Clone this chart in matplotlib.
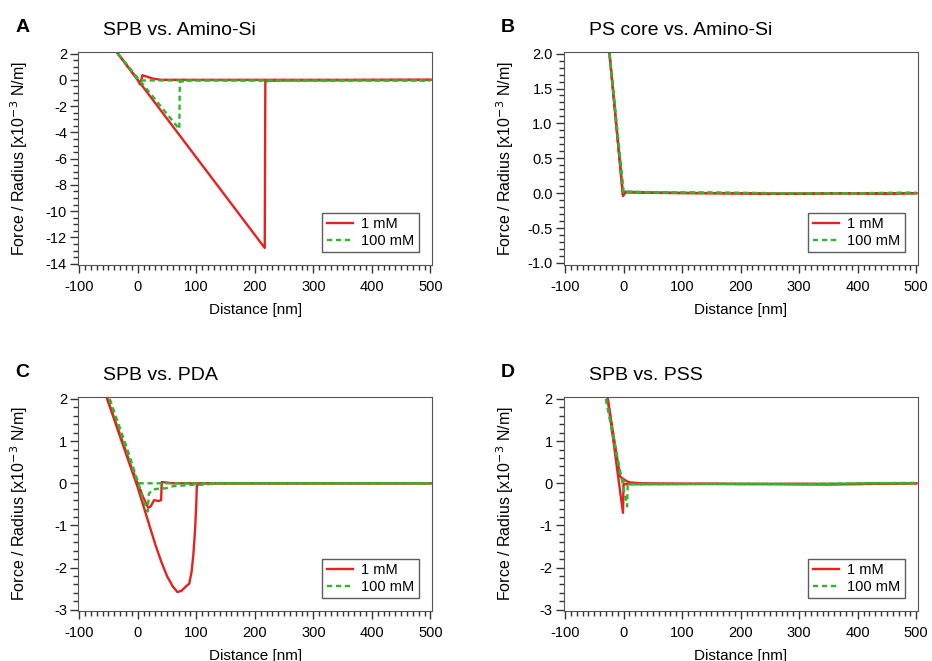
import matplotlib.pyplot as plt
from matplotlib.ticker import MultipleLocator

plt.rcParams['font.family'] = ['Liberation Sans', 'DejaVu Sans']
plt.rcParams['axes.unicode_minus'] = False

# panel A: SPB vs. Amino-Si
a_red_app_x = [-34, 0, 4, 8, 15, 25, 40, 500]
a_red_app_y = [2.0, 0.0, -0.35, 0.35, 0.25, 0.1, 0.0, 0.0]
a_red_ret_x = [-34, 217, 218, 240, 500]
a_red_ret_y = [2.0, -12.8, -0.1, -0.05, 0.0]
a_grn_app_x = [-34, 0, 3, 500]
a_grn_app_y = [2.0, 0.05, -0.05, -0.05]
a_grn_ret_x = [-34, 71, 72, 90, 500]
a_grn_ret_y = [2.0, -3.75, -0.15, -0.05, -0.05]

# panel B: PS core vs. Amino-Si
b_red_app_x = [-24, -1, 3, 50, 150, 250, 350, 450, 500]
b_red_app_y = [2.0, -0.04, 0.02, 0.01, 0.0, -0.01, 0.0, -0.01, 0.0]
b_red_ret_x = [-24, -1, 4, 100, 200, 300, 400, 500]
b_red_ret_y = [2.0, -0.03, 0.01, 0.0, 0.0, -0.01, 0.0, 0.0]
b_grn_app_x = [-24, 0, 3, 60, 160, 260, 360, 460, 500]
b_grn_app_y = [2.0, 0.0, 0.02, 0.01, 0.01, 0.0, 0.0, 0.0, 0.0]
b_grn_ret_x = [-24, 0, 5, 100, 200, 300, 400, 500]
b_grn_ret_y = [2.0, 0.01, 0.02, 0.01, 0.0, 0.0, 0.0, 0.01]

# panel C: SPB vs. PDA
c_red_app_x = [-52, -30, -10, 0, 10, 18, 22, 28, 36, 40, 41, 60, 100, 500]
c_red_app_y = [2.0, 1.15, 0.35, 0.0, -0.35, -0.58, -0.55, -0.4, -0.42, -0.4, 0.03, 0.0, 0.0, 0.0]
c_red_ret_x = [-52, -30, -10, 0, 10, 20, 30, 40, 50, 60, 68, 75, 82, 88, 92, 95, 98, 100, 101, 110, 500]
c_red_ret_y = [2.0, 1.1, 0.3, -0.1, -0.55, -1.0, -1.45, -1.85, -2.2, -2.45, -2.58, -2.55, -2.45, -2.38, -2.1, -1.7, -1.1, -0.5, -0.05, 0.0, 0.0]
c_grn_app_x = [-48, 0, 500]
c_grn_app_y = [2.0, 0.0, 0.0]
c_grn_ret_x = [-48, -20, 0, 10, 17, 19, 25, 40, 48, 60, 80, 100, 117, 125, 500]
c_grn_ret_y = [2.0, 0.9, 0.05, -0.4, -0.67, -0.25, -0.15, -0.12, -0.12, -0.07, -0.05, -0.03, -0.04, 0.0, 0.0]

# panel D: SPB vs. PSS
d_red_app_x = [-27, -6, 0, 5, 11, 30, 100, 200, 300, 400, 500]
d_red_app_y = [2.0, 0.16, 0.1, 0.05, 0.02, 0.0, -0.01, -0.02, -0.01, -0.02, 0.0]
d_red_ret_x = [-27, -1, 0, 20, 150, 250, 350, 450, 500]
d_red_ret_y = [2.0, -0.7, -0.02, -0.02, -0.01, -0.02, -0.03, 0.0, 0.0]
d_grn_app_x = [-30, -5, 0, 8, 20, 120, 220, 320, 420, 500]
d_grn_app_y = [2.0, 0.15, 0.05, -0.02, -0.02, -0.02, -0.01, -0.02, 0.0, 0.0]
d_grn_ret_x = [-30, 6, 7, 15, 100, 200, 300, 400, 500]
d_grn_ret_y = [2.0, -0.55, -0.05, -0.02, -0.02, -0.01, -0.02, 0.0, 0.01]

red = '#e4221e'
green = '#2fb52f'

fig = plt.figure(figsize=(9.32, 6.61), dpi=100)

panels = [
    ('A', 'SPB vs. Amino-Si', [0.0837, 0.599, 0.380, 0.322], (-14.1, 2.1), 2, 0.5, '%d',
     a_red_app_x, a_red_app_y, a_red_ret_x, a_red_ret_y, a_grn_app_x, a_grn_app_y, a_grn_ret_x, a_grn_ret_y),
    ('B', 'PS core vs. Amino-Si', [0.605, 0.599, 0.380, 0.322], (-1.03, 2.02), 0.5, 0.1, '%.1f',
     b_red_app_x, b_red_app_y, b_red_ret_x, b_red_ret_y, b_grn_app_x, b_grn_app_y, b_grn_ret_x, b_grn_ret_y),
    ('C', 'SPB vs. PDA', [0.0837, 0.0756, 0.380, 0.324], (-3.03, 2.05), 1, 0.2, '%d',
     c_red_app_x, c_red_app_y, c_red_ret_x, c_red_ret_y, c_grn_app_x, c_grn_app_y, c_grn_ret_x, c_grn_ret_y),
    ('D', 'SPB vs. PSS', [0.605, 0.0756, 0.380, 0.324], (-3.03, 2.05), 1, 0.2, '%d',
     d_red_app_x, d_red_app_y, d_red_ret_x, d_red_ret_y, d_grn_app_x, d_grn_app_y, d_grn_ret_x, d_grn_ret_y),
]

for p in panels:
    letter, title, rect, ylim, ymaj, ymin, fmt = p[:7]
    rax, ray, rrx, rry, gax, gay, grx, gry = p[7:]
    ax = fig.add_axes(rect)
    ax.plot(rax, ray, color=red, lw=1.7)
    l1, = ax.plot(rrx, rry, color=red, lw=1.7, label='1 mM')
    ax.plot(gax, gay, color=green, lw=1.7, dashes=(2.2, 1.6))
    l2, = ax.plot(grx, gry, color=green, lw=1.7, dashes=(2.2, 1.6), label='100 mM')
    ax.set_xlim(-102, 503)
    ax.set_ylim(*ylim)
    ax.xaxis.set_major_locator(MultipleLocator(100))
    ax.xaxis.set_minor_locator(MultipleLocator(10))
    ax.yaxis.set_major_locator(MultipleLocator(ymaj))
    ax.yaxis.set_minor_locator(MultipleLocator(ymin))
    ax.yaxis.set_major_formatter(plt.FormatStrFormatter(fmt))
    ax.tick_params(which='both', direction='out', color='#333333', width=1.0, labelsize=10.5)
    ax.tick_params(which='major', length=6)
    ax.tick_params(which='minor', length=3.5)
    ax.tick_params(axis='x', which='major', pad=5)
    ax.tick_params(axis='y', which='major', pad=2)
    for s in ax.spines.values():
        s.set_color('#555555')
    ax.set_xlabel('Distance [nm]', fontsize=11, labelpad=6)
    ax.set_ylabel('Force / Radius [x10$^{-3}$ N/m]', fontsize=11.5)
    ax.yaxis.set_label_coords(-0.136, 0.5)
    leg = ax.legend(handles=[l1, l2], loc='lower right', bbox_to_anchor=(0.962, 0.06),
                    borderaxespad=0, fancybox=False, fontsize=10.5, handlelength=1.8,
                    handletextpad=0.55, borderpad=0.3, labelspacing=0.2)
    leg.get_frame().set_edgecolor('#333333')
    leg.get_frame().set_linewidth(1.0)
    fx = rect[0] - 0.06
    fy = rect[1] + rect[3] + 0.037
    fig.text(fx, fy, letter, fontsize=14, fontweight='bold', va='center', ha='center')
    fig.text(rect[0] + 0.027, fy - 0.004, title, fontsize=14, va='center', ha='left')

fig.savefig('out.png', dpi=100)
